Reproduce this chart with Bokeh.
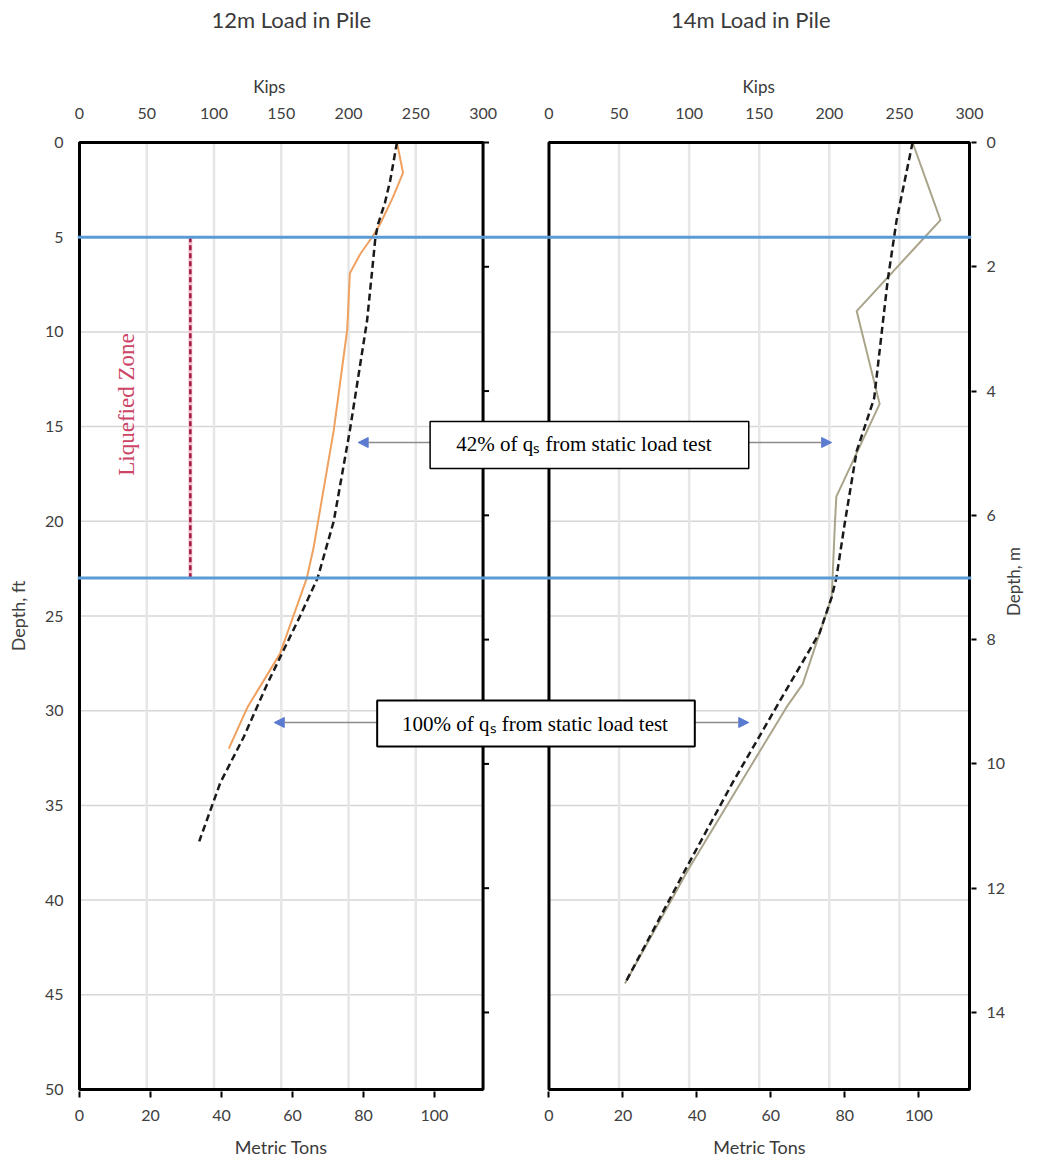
import math
from bokeh.plotting import figure
from bokeh.models import (Range1d, LinearAxis, FixedTicker, Span, Label, Arrow,
                          NormalHead, BoxAnnotation)
from bokeh.embed import file_html
from bokeh.resources import INLINE

# ---------------- data (load in kips vs depth in ft) ----------------
left_meas_depth = [0, 1.6, 2.9, 4.3, 5.0, 5.9, 6.9, 9.9, 15.2, 21.4, 23.0, 27.0, 29.8, 32.0]
left_meas_kips = [236, 240.5, 233, 223.5, 217.5, 208.6, 201, 199, 189, 174, 169, 149, 125, 111]
left_pred_depth = [0, 2.0, 3.2, 4.3, 5.0, 6.8, 9.4, 15.2, 20.0, 23.0, 25.0, 28.6, 31.4, 33.8, 36.9]
left_pred_kips = [236, 231, 227, 222, 220, 217.5, 213.8, 201, 189, 177, 164, 139.5, 122, 104.7, 89]
right_meas_depth = [0, 4.1, 5.0, 8.9, 13.8, 18.7, 20.1, 24.0, 28.6, 29.8, 32.8, 38.3, 44.4]
right_meas_kips = [259.4, 279.3, 268, 219.5, 235.9, 205, 204, 201.7, 181, 169.6, 145, 100, 54.2]
right_pred_depth = [0, 4.1, 7.3, 13.5, 16.3, 20.1, 23.0, 24.0, 25.9, 29.5, 33.8, 38.3, 44.4]
right_pred_kips = [259.4, 248, 241.6, 232, 219.5, 211, 205, 201.7, 193, 164.6, 131, 98, 54.2]

liq_kips = [82.4, 82.4]
liq_depth = [5, 23]
blue_depths = [5, 23]

panel_kips = [0, 300]
panel_depth = [0, 50]
kip_ticks = [0, 50, 100, 150, 200, 250, 300]
ton_ticks = [0, 20, 40, 60, 80, 100]
ft_ticks = [0, 5, 10, 15, 20, 25, 30, 35, 40, 45, 50]
m_ticks = [0, 2, 4, 6, 8, 10, 12, 14]
grid_ft = [10, 15, 20, 25, 30, 35, 40, 45]
grid_kips = [50, 100, 150, 200, 250]
KIPS_PER_TON = 300 / 113.7
FT_PER_M = 3.28084

titles = ["12m Load in Pile", "14m Load in Pile"]
kips_label = "Kips"
tons_label = "Metric Tons"
note1 = "42% of q\u209b from static load test"
note2 = "100% of q\u209b from static load test"

# ---------------- layout (pixels in the picture) ----------------
LX0, LX1 = 79, 483      # left panel kips 0..300
RX0, RX1 = 549, 970     # right panel kips 0..300
Y0, Y1 = 142, 1089      # depth 0..50 ft
PAD = 2
FL, FR, FT, FB = LX0 - PAD, RX1 + PAD, Y0 - PAD, Y1 + PAD
W, H = 1037, 1160

kL = 300 / (LX1 - LX0)
kR = 300 / (RX1 - RX0)
kY = 50 / (Y1 - Y0)


def xL(px):
    return (px - LX0) * kL


def yD(py):
    return (py - Y0) * kY


def r2l(k):
    return ((RX0 + k / kR) - LX0) * kL


xr = Range1d(xL(FL), xL(FR))
xrR = Range1d((FL - RX0) * kR, (FR - RX0) * kR)
yr = Range1d(yD(FB), yD(FT))
yrM = Range1d(yD(FB) / FT_PER_M, yD(FT) / FT_PER_M)

p = figure(width=W, height=H, x_range=xr, y_range=yr, output_backend="svg",
           toolbar_location=None, x_axis_location=None, y_axis_location=None,
           min_border_left=FL, min_border_right=W - FR,
           min_border_top=FT, min_border_bottom=H - FB)
p.extra_x_ranges = {"R": xrR}
p.extra_y_ranges = {"m": yrM}
p.outline_line_color = None
p.background_fill_color = "white"
p.border_fill_color = "white"
for g in list(p.grid):
    g.visible = False

FONT = "Lato"
TXT = "#404040"


def style_axis(ax, size="16px", color=TXT):
    ax.axis_line_color = None
    ax.minor_tick_line_color = None
    ax.major_label_text_font = FONT
    ax.major_label_text_font_size = size
    ax.major_label_text_color = color
    ax.major_tick_line_color = "black"
    ax.major_tick_line_width = 2
    ax.major_tick_in = 0
    ax.axis_label_text_font = FONT
    ax.axis_label_text_font_style = "normal"
    ax.axis_label_text_color = TXT
    ax.axis_label_text_font_size = "18px"


def text_axis(ticks, texts, size, standoff, where, color="#3a3a3a"):
    ax = LinearAxis(ticker=FixedTicker(ticks=ticks),
                    major_label_overrides={t: s for t, s in zip(ticks, texts)})
    style_axis(ax, size, color)
    ax.major_tick_line_color = None
    ax.major_tick_out = 0
    ax.major_label_standoff = standoff
    p.add_layout(ax, where)


# left axis (ft)
ax_l = LinearAxis(ticker=FixedTicker(ticks=ft_ticks), axis_label="Depth, ft")
style_axis(ax_l)
ax_l.major_tick_out = 0
ax_l.major_label_standoff = 14
ax_l.axis_label_standoff = 13
p.add_layout(ax_l, "left")

# right axis (m)
ax_r = LinearAxis(y_range_name="m", ticker=FixedTicker(ticks=m_ticks), axis_label="Depth, m")
style_axis(ax_r)
ax_r.major_tick_out = 5
ax_r.major_label_standoff = 10
ax_r.axis_label_standoff = 5
ax_r.axis_label_text_font_size = "17px"
ax_r.axis_label_orientation = math.pi / 2
p.add_layout(ax_r, "right")

# top axis (kips, both panels)
top_ticks = [float(k) for k in kip_ticks] + [round(r2l(k), 4) for k in kip_ticks]
ax_t = LinearAxis(ticker=FixedTicker(ticks=top_ticks),
                  major_label_overrides={t: str(k) for t, k in zip(top_ticks, kip_ticks + kip_ticks)})
style_axis(ax_t)
ax_t.major_tick_out = 0
ax_t.major_label_standoff = 22
p.add_layout(ax_t, "above")
# "Kips" captions and panel titles, stacked above the tick labels
text_axis([round(xL(269), 4), round(xL(759), 4)], [kips_label, kips_label], "17px", 8, "above")
text_axis([round(xL(291), 4), round(xL(751), 4)], titles, "22px", 40, "above")

# bottom axis (metric tons, both panels)
bot_ticks = [round(t * KIPS_PER_TON, 4) for t in ton_ticks] + \
            [round(r2l(t * KIPS_PER_TON), 4) for t in ton_ticks]
ax_b = LinearAxis(ticker=FixedTicker(ticks=bot_ticks),
                  major_label_overrides={t: str(v) for t, v in zip(bot_ticks, ton_ticks + ton_ticks)})
style_axis(ax_b)
ax_b.major_tick_out = 6
ax_b.major_label_standoff = 12
p.add_layout(ax_b, "below")
text_axis([round(xL(281), 4), round(xL(760), 4)], [tons_label, tons_label], "18px", 12, "below")

# ---------------- grid lines inside each panel ----------------
for rng in ("default", "R"):
    kw = {} if rng == "default" else {"x_range_name": "R"}
    p.segment(x0=[panel_kips[0]] * len(grid_ft), x1=[panel_kips[1]] * len(grid_ft),
              y0=grid_ft, y1=grid_ft, line_color="#d6d6d6", line_width=1.5, **kw)
    p.segment(x0=grid_kips, x1=grid_kips, y0=[panel_depth[0]] * len(grid_kips),
              y1=[panel_depth[1]] * len(grid_kips), line_color="#e6e6e6", line_width=2.5, **kw)

# liquefied zone line
p.line(liq_kips, liq_depth, line_color="#f7c3cf", line_width=4)
p.line(liq_kips, liq_depth, line_color="#a01840", line_width=2.5, line_dash="5 3")

# data lines
p.line(left_meas_kips, left_meas_depth, line_color="#f0a160", line_width=2)
p.line(left_pred_kips, left_pred_depth, line_color="#1a1a1a", line_width=2.5, line_dash="7 4")
p.line(right_meas_kips, right_meas_depth, line_color="#a9a48a", line_width=2, x_range_name="R")
p.line(right_pred_kips, right_pred_depth, line_color="#1a1a1a", line_width=2.5,
       line_dash="7 4", x_range_name="R")

# panel borders
p.quad(left=[panel_kips[0]], right=[panel_kips[1]], top=[panel_depth[0]], bottom=[panel_depth[1]],
       fill_color=None, line_color="black", line_width=3)
p.quad(left=[panel_kips[0]], right=[panel_kips[1]], top=[panel_depth[0]], bottom=[panel_depth[1]],
       fill_color=None, line_color="black", line_width=3, x_range_name="R")

# meter ticks on the right edge of the left panel
m_ft = [m * FT_PER_M for m in m_ticks]
p.segment(x0=[panel_kips[1]] * len(m_ft), x1=[panel_kips[1] + 6 * kL] * len(m_ft),
          y0=m_ft, y1=m_ft, line_color="black", line_width=2)

# blue boundary lines
for d in blue_depths:
    p.add_layout(Span(location=d, dimension="width", line_color="#5b9bd5", line_width=3))

# ---------------- annotations inside the frame ----------------
p.add_layout(Label(x=xL(126), y=yD(404), text="Liquefied Zone", text_align="center",
                   text_baseline="middle", text_font="Liberation Serif", text_font_size="23px",
                   text_color="#cc4466", angle=math.pi / 2))

HEAD = "#5b7bd0"
ARROW_LINE = "#8c8c8c"


def add_arrow(px0, px1, py):
    p.add_layout(Arrow(x_start=xL(px0), y_start=yD(py), x_end=xL(px1), y_end=yD(py),
                       line_color=ARROW_LINE, line_width=1.5,
                       end=NormalHead(size=10, fill_color=HEAD, line_color=HEAD)))


add_arrow(430, 358, 442)
add_arrow(749, 832, 442)
add_arrow(377, 274, 722)
add_arrow(695, 749, 722)

p.add_layout(BoxAnnotation(left=xL(430), right=xL(749), top=yD(421), bottom=yD(468),
                           fill_color="white", fill_alpha=1.0, line_color="black",
                           line_width=1.5, line_alpha=1.0))
p.add_layout(BoxAnnotation(left=xL(377), right=xL(695), top=yD(700), bottom=yD(746),
                           fill_color="white", fill_alpha=1.0, line_color="black",
                           line_width=2, line_alpha=1.0))
for txt, px, py in ((note1, 584, 443), (note2, 535, 723)):
    p.add_layout(Label(x=xL(px), y=yD(py), text=txt, text_align="center", text_baseline="middle",
                       text_font="Liberation Serif", text_font_size="21px", text_color="black"))

open("out.html", "w").write(file_html(p, INLINE))
